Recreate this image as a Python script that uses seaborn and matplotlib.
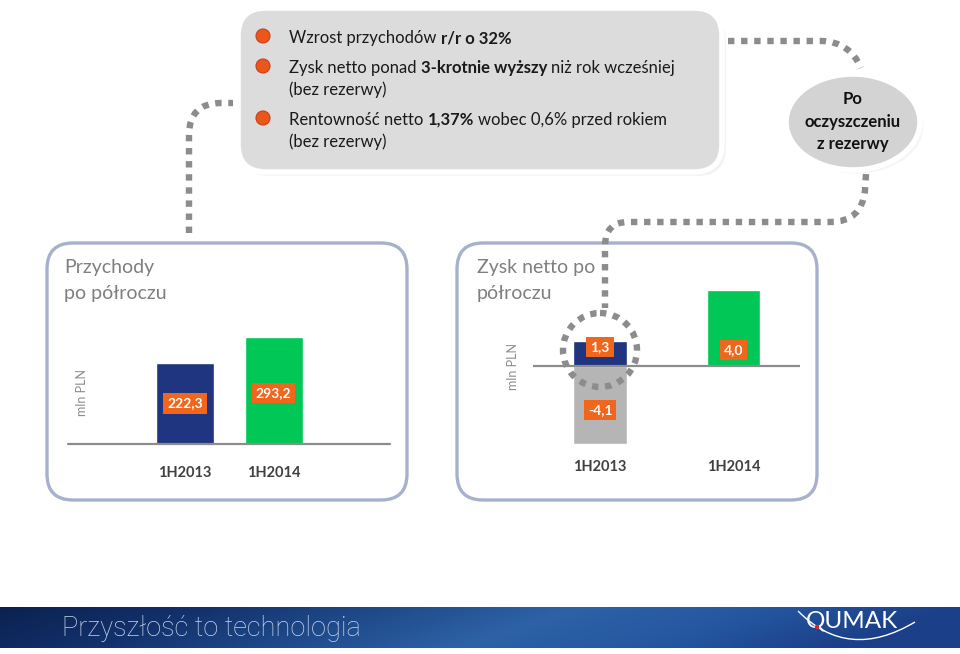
import numpy as np
import pandas as pd
import matplotlib
matplotlib.use("Agg")
import matplotlib.pyplot as plt
import seaborn as sns
from matplotlib.patches import FancyBboxPatch, Ellipse, Circle, PathPatch
from matplotlib.path import Path
from matplotlib.colors import LinearSegmentedColormap

# ---------------- data ----------------
categories = ["1H2013", "1H2014"]
revenue = [222.3, 293.2]
revenue_labels = ["222,3", "293,2"]
profit_clean = [1.3, 4.0]
profit_clean_labels = ["1,3", "4,0"]
reserve_categories = ["1H2013"]
reserve_values = [-4.1]
reserve_labels = ["-4,1"]

left_title = ["Przychody", "po półroczu"]
right_title = ["Zysk netto po", "półroczu"]
unit_label = "mln PLN"
bubble_text = ["Po", "oczyszczeniu", "z rezerwy"]
footer_text = "Przyszłość to technologia"
logo_text = "QUMAK"

bullet_lines = [
    [("Wzrost przychodów ", False), ("r/r o 32%", True)],
    [("Zysk netto ponad ", False), ("3-krotnie wyższy", True), (" niż rok wcześniej", False)],
    [("(bez rezerwy)", False)],
    [("Rentowność netto ", False), ("1,37%", True), (" wobec 0,6% przed rokiem", False)],
    [("(bez rezerwy)", False)],
]
bullet_dots = [0, 1, 3]  # lines that start a bullet

# ---------------- style ----------------
sns.set_style("white")
plt.rcParams["font.family"] = ["Lato", "DejaVu Sans"]

NAVY = "#1f3580"
GREEN = "#00c756"
GREY_BAR = "#b5b5b5"
ORANGE = "#f0661c"
FRAME = "#a7b1cb"
DOT = "#8c8c8c"

W, H = 960, 654
fig = plt.figure(figsize=(W / 100, H / 100), dpi=100)
fig.patch.set_facecolor("white")

bg = fig.add_axes([0, 0, 1, 1], zorder=0)
bg.set_xlim(0, W)
bg.set_ylim(H, 0)
bg.axis("off")

fg = fig.add_axes([0, 0, 1, 1], zorder=10)
fg.set_xlim(0, W)
fg.set_ylim(H, 0)
fg.axis("off")
fg.patch.set_alpha(0)


def pix_axes(x0, x1, ytop, ybot):
    return fig.add_axes([x0 / W, (H - ybot) / H, (x1 - x0) / W, (ybot - ytop) / H], zorder=5)


# ---------------- top grey box ----------------
for off, a in ((4, 0.12), (2.5, 0.18)):
    bg.add_patch(FancyBboxPatch((238 + off, 8 + off), 484, 164,
                                boxstyle="round,pad=0,rounding_size=28",
                                fc="#b0b0b0", ec="none", alpha=a))
bg.add_patch(FancyBboxPatch((238, 8), 484, 164, boxstyle="round,pad=0,rounding_size=28",
                            fc="#dcdcdc", ec="white", lw=4))

fig.canvas.draw()
renderer = fig.canvas.get_renderer()
FS = 12


def text_w(s, bold):
    t = bg.text(0, 0, s, fontsize=FS, fontweight="bold" if bold else "normal")
    w = t.get_window_extent(renderer).width
    t.remove()
    return w


space_w = text_w("x x", False) - text_w("xx", False)
line_y = [38, 68, 90, 120, 142]
for i, segs in enumerate(bullet_lines):
    x = 289
    for s, bold in segs:
        lead = len(s) - len(s.lstrip(" "))
        trail = len(s) - len(s.rstrip(" "))
        core = s.strip(" ")
        x += lead * space_w
        bg.text(x, line_y[i], core, fontsize=FS, fontweight="bold" if bold else "normal",
                color="#1a1a1a", ha="left", va="center")
        x += text_w(core, bold) + trail * space_w
for i in bullet_dots:
    bg.add_patch(Circle((263, line_y[i] - 2), 7, fc="#ea561c", ec="#c8401a", lw=0.8))

# ---------------- bubble ----------------
for off, a in ((3.5, 0.12), (2, 0.18)):
    bg.add_patch(Ellipse((853 + off, 122 + off), 134, 96, fc="#b0b0b0", ec="none", alpha=a))
bg.add_patch(Ellipse((853, 122), 134, 96, fc="#d3d3d3", ec="white", lw=4))
for k, s in enumerate(bubble_text):
    bg.text(853, 99 + 22.5 * k, s, fontsize=12, fontweight="bold", color="#111111",
            ha="center", va="center")

# ---------------- chart frames ----------------
for x0 in (47, 457):
    bg.add_patch(FancyBboxPatch((x0, 243), 360, 257, boxstyle="round,pad=0,rounding_size=26",
                                fc="white", ec=FRAME, lw=2.4))
for k, s in enumerate(left_title):
    bg.text(64, 268 + 26 * k, s, fontsize=14, color="#7f7f7f", ha="left", va="center")
for k, s in enumerate(right_title):
    bg.text(477, 268 + 26 * k, s, fontsize=14, color="#7f7f7f", ha="left", va="center")
bg.text(82, 393, unit_label, fontsize=9, color="#8c8c8c", rotation=90, ha="center", va="center")
bg.text(513, 367, unit_label, fontsize=9, color="#8c8c8c", rotation=90, ha="center", va="center")

# ---------------- left chart: revenue ----------------
axL = pix_axes(68, 390, 300, 444)
axL.patch.set_alpha(0)
df_rev = pd.DataFrame({"cat": categories, "val": revenue})
sns.barplot(data=df_rev, x="cat", y="val", hue="cat", order=categories,
            palette=[NAVY, GREEN], width=0.655, saturation=1, legend=False, ax=axL)
axL.set_xlim(-1.322, 2.316)
axL.set_ylim(0, 395)
axL.axhline(0, color="#8c8c8c", lw=1.6, zorder=3, clip_on=False)
rev_label_frac = [0.5, 0.48]
for i, (v, lab) in enumerate(zip(revenue, revenue_labels)):
    axL.text(i, v * rev_label_frac[i], lab, fontsize=10, fontweight="bold", color="white",
             ha="center", va="center",
             bbox=dict(boxstyle="square,pad=0.3", fc=ORANGE, ec="none"))
axL.set_xticks(range(len(categories)))
axL.set_xticklabels(categories, fontsize=10.5, fontweight="bold", color="#404040")
axL.tick_params(axis="x", length=0, pad=16)
axL.set_yticks([])
axL.set_xlabel("")
axL.set_ylabel("")
sns.despine(ax=axL, left=True, bottom=True)

# ---------------- right chart: net profit ----------------
axR = pix_axes(533, 800, 280, 450)
axR.patch.set_alpha(0)
df_prof = pd.DataFrame({"cat": categories, "val": profit_clean})
sns.barplot(data=df_prof, x="cat", y="val", hue="cat", order=categories,
            palette=[NAVY, GREEN], width=0.40, saturation=1, legend=False, ax=axR)
df_res = pd.DataFrame({"cat": reserve_categories, "val": reserve_values})
sns.barplot(data=df_res, x="cat", y="val", order=categories, color=GREY_BAR,
            width=0.40, saturation=1, ax=axR)
axR.set_xlim(-0.502, 1.498)
axR.set_ylim(-4.437, 4.51)
axR.axhline(0, color="#8c8c8c", lw=1.6, zorder=3)
prof_label_frac = [0.75, 0.21]
for i, (v, lab) in enumerate(zip(profit_clean, profit_clean_labels)):
    axR.text(i, v * prof_label_frac[i], lab, fontsize=10, fontweight="bold", color="white",
             ha="center", va="center",
             bbox=dict(boxstyle="square,pad=0.3", fc=ORANGE, ec="none"))
res_label_frac = [0.57]
for i, (v, lab) in enumerate(zip(reserve_values, reserve_labels)):
    axR.text(categories.index(reserve_categories[i]), v * res_label_frac[i], lab, fontsize=10,
             fontweight="bold", color="white", ha="center", va="center",
             bbox=dict(boxstyle="square,pad=0.3", fc=ORANGE, ec="none"))
axR.set_xticks(range(len(categories)))
axR.set_xticklabels(categories, fontsize=10.5, fontweight="bold", color="#404040")
axR.tick_params(axis="x", length=0, pad=7)
axR.set_yticks([])
axR.set_xlabel("")
axR.set_ylabel("")
sns.despine(ax=axR, left=True, bottom=True)

# ---------------- dotted connectors ----------------
dot_style = dict(fill=False, ec=DOT, lw=4.6, linestyle=(0, (1, 1.05)), capstyle="butt",
                 joinstyle="miter")
paths = [
    ([(189, 233), (189, 135), (189, 103), (221, 103), (233, 103)],
     [Path.MOVETO, Path.LINETO, Path.CURVE3, Path.CURVE3, Path.LINETO]),
    ([(728, 41), (822, 41), (850, 42), (861, 68)],
     [Path.MOVETO, Path.LINETO, Path.CURVE3, Path.CURVE3]),
    ([(866, 174), (865, 190), (862, 222), (830, 222), (628, 222), (605, 222), (605, 246), (605, 308)],
     [Path.MOVETO, Path.LINETO, Path.CURVE3, Path.CURVE3, Path.LINETO, Path.CURVE3, Path.CURVE3,
      Path.LINETO]),
]
for verts, codes in paths:
    fg.add_patch(PathPatch(Path(verts, codes), **dot_style))
fg.add_patch(Circle((600, 350), 37, **dot_style))

# ---------------- footer ----------------
grad = LinearSegmentedColormap.from_list(
    "foot", ["#0c2150", "#12306a", "#1f4a8a", "#2d62a6", "#2457a0", "#1b3f88"])
gx = np.linspace(0, 1, 400)[None, :]
gy = np.linspace(0.0, 0.12, 30)[:, None]
bg.imshow(np.clip(gx + gy, 0, 1), cmap=grad, extent=[0, W, 648, 607], aspect="auto",
          zorder=1, interpolation="bilinear")
bg.set_xlim(0, W)
bg.set_ylim(H, 0)
bg.text(62, 628, footer_text, fontsize=19.5, color="#c8d5ee", ha="left", va="center",
        family=["Roboto", "DejaVu Sans"], fontweight="light", zorder=2)
bg.text(852, 621, logo_text, fontsize=17.5, color="white", ha="center", va="center",
        family=["Lato", "DejaVu Sans"], zorder=2)
swoosh = Path([(798, 611), (848, 662), (915, 622)], [Path.MOVETO, Path.CURVE3, Path.CURVE3])
bg.add_patch(PathPatch(swoosh, fill=False, ec="white", lw=1.0, zorder=2))
bg.add_patch(Circle((817, 627), 2.2, fc="#e0202a", ec="none", zorder=3))

fig.savefig("out.png", dpi=100, facecolor="white")
